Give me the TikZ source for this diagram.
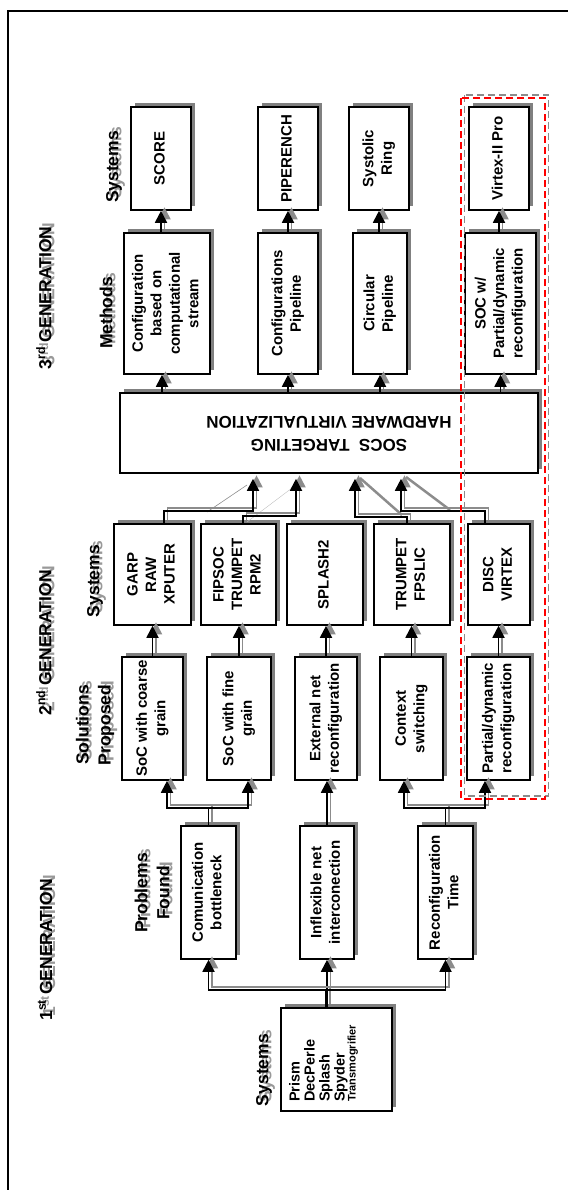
\documentclass[tikz,border=0pt]{standalone}
\usepackage{fontspec}
\setmainfont{Liberation Sans}
\usetikzlibrary{arrows.meta,shadows,calc}
\newcommand\mybox[6]{%
  \node[box, minimum width={#3-#2}, minimum height={#5-#4}] (#1) at ({(#2+#3)/2},{(#4+#5)/2})
    {\rotatebox{90}{\begin{tabular}{@{}c@{}}#6\end{tabular}}};}
\newcommand\lab[4]{%
  \node[lbl, text=black!40] (#1s) at ([shift={(3,-4)}]#2,#3) {#4};
  \node[lbl] (#1) at (#2,#3) {#4};}
\newcommand\conn[1]{\draw[cshadow] #1; \draw[conn] #1;}
\begin{document}
\begin{tikzpicture}[x=1pt,y=-1pt,
  box/.style={draw, line width=1.6pt, fill=white, inner sep=0pt,
    font=\fontsize{15}{18.5}\selectfont\bfseries,
    drop shadow={shadow xshift=4pt, shadow yshift=4pt, fill=black!50, opacity=1}},
  conn/.style={draw=black, line width=1.8pt, -{Triangle[length=12pt,width=12pt]}},
  cshadow/.style={conn, draw=black!45, transform canvas={shift={(3.5pt,3.5pt)}}},
  lbl/.style={rotate=90, align=center, inner sep=0pt, font=\fontsize{17.5}{22}\selectfont\bfseries},
  artifact/.style={draw=black!45}
]
\useasboundingbox (0,0) rectangle (567,1190);
\draw[line width=1.3pt] (8,1200) -- (8,11) -- (580,11);

% labels
\lab{lsysc}{114}{167}{Systems}
\lab{lgenc}{44}{298}{3\textsuperscript{rd} GENERATION}
\lab{lmeth}{106}{313}{Methods}
\lab{lgenb}{44}{643}{2\textsuperscript{nd} GENERATION}
\lab{lsysb}{95}{581}{Systems}
\lab{lsol}{95}{725}{Solutions\\Proposed}
\lab{lprob}{152}{893}{Problems\\Found}
\lab{lgena}{45}{950}{1\textsuperscript{st} GENERATION}
\lab{lsysa}{264}{1070}{Systems}

% 3rd generation
\mybox{score}{131}{191}{107}{210}{SCORE}
\mybox{piper}{258}{318}{107}{210}{PIPERENCH}
\mybox{systolic}{349}{409}{107}{210}{Systolic\\Ring}
\mybox{virtexii}{469}{529}{107}{210}{Virtex-II Pro}
\mybox{mone}{124}{210}{233}{374}{\fontsize{15}{16.5}\selectfont Configuration\\based on\\computational\\stream}
\mybox{mtwo}{258}{318}{233}{374}{Configurations\\Pipeline}
\mybox{mthree}{353}{407}{233}{374}{Circular\\Pipeline}
\mybox{mfour}{465}{536}{233}{374}{SOC w/\\Partial/dynamic\\reconfiguration}
\node[box, minimum width=418pt, minimum height=80pt] (central) at (329,433)
  {\fontsize{17}{23}\selectfont\rotatebox{180}{\begin{tabular}{@{}c@{}}SOCS\ \ TARGETING\\HARDWARE VIRTUALIZATION\end{tabular}}};

% 2nd generation
\mybox{garp}{114}{191}{524}{625}{GARP\\RAW\\XPUTER}
\mybox{fipsoc}{201}{276}{524}{625}{FIPSOC\\TRUMPET\\RPM2}
\mybox{splash}{287}{363}{524}{625}{SPLASH2}
\mybox{trumpet}{374}{450}{524}{625}{TRUMPET\\FPSLIC}
\mybox{disc}{468}{530}{524}{625}{DISC\\VIRTEX}
\mybox{sone}{122}{183}{657}{780}{SoC with coarse\\grain}
\mybox{stwo}{207}{271}{657}{780}{SoC with fine\\grain}
\mybox{sthree}{295}{357}{657}{780}{External net\\reconfiguration}
\mybox{sfour}{380}{443}{657}{780}{Context\\switching}
\mybox{sfive}{467}{530}{657}{780}{Partial/dynamic\\reconfiguration}

% 1st generation
\mybox{pone}{181}{236}{826}{959}{Comunication\\bottleneck}
\mybox{ptwo}{300}{354}{826}{959}{Inflexible net\\interconection}
\mybox{pthree}{418}{473}{826}{959}{Reconfiguration\\Time}
\node[box, minimum width=111pt, minimum height=103pt] (gone) at (336.5,1059.5) {};
\node[rotate=90, anchor=north west, align=left, inner sep=0pt,
  font=\fontsize{14.5}{15}\selectfont\bfseries] (gonetext) at (289,1102)
  {Prism\\DecPerle\\Splash\\Spyder\\[-4pt]{\fontsize{11}{12}\selectfont Transmogrifier}};

% shadow artefacts
\draw[artifact, line width=0.6pt] (207,512) -- (247,485);
\draw[draw=black!25, line width=0.4pt] (247,522) -- (292,488);
\draw[artifact, line width=2.5pt] (360,478) -- (402,515);
\draw[artifact, line width=2.5pt] (406,477) -- (450,510);

% connectors 1st gen
\conn{(ptwo.south |- gone.north) -- (ptwo.south)}
\conn{([xshift=-10.5pt]gone.north) -- ++(0,-17) -| (pone.south)}
\conn{([xshift=-10.5pt]gone.north) -- ++(0,-17) -| (pthree.south)}
\conn{(pone.north) -- ++(0,-17) -| ([xshift=14.5pt]sone.south)}
\conn{(pone.north) -- ++(0,-17) -| ([xshift=9pt]stwo.south)}
\conn{(ptwo.north) -- (ptwo.north |- sthree.south)}
\conn{(pthree.north) -- ++(0,-17) -| ([xshift=-7.5pt]sfour.south)}
\conn{(pthree.north) -- ++(0,-17) -| ([xshift=-13.5pt]sfive.south)}

% connectors 2nd gen
\conn{(sone.north) -- (sone.north |- garp.south)}
\conn{(stwo.north) -- (stwo.north |- fipsoc.south)}
\conn{(sthree.north) -- (sthree.north |- splash.south)}
\conn{(sfour.north) -- (sfour.north |- trumpet.south)}
\conn{(sfive.north) -- (sfive.north |- disc.south)}
\conn{([xshift=11.5pt]garp.north) -- ++(0,-12) -| ([xshift=-76pt,yshift=-5pt]central.south)}
\conn{([xshift=4.5pt]fipsoc.north) -- ++(0,-7) -| ([xshift=-33pt,yshift=-5pt]central.south)}
\conn{([xshift=-5pt]trumpet.north) -- ++(0,-6) -| ([xshift=26pt,yshift=-5pt]central.south)}
\conn{([xshift=-14pt]disc.north) -- ++(0,-12) -| ([xshift=72pt,yshift=-5pt]central.south)}

% connectors 3rd gen
\conn{($(mone.south)+(-5,19)$) -- ([xshift=-5pt]mone.south)}
\conn{(central.north -| mtwo.south) -- (mtwo.south)}
\conn{(central.north -| mthree.south) -- (mthree.south)}
\conn{(central.north -| mfour.south) -- (mfour.south)}
\conn{(mone.north -| score.south) -- (score.south)}
\conn{(mtwo.north -| piper.south) -- (piper.south)}
\conn{(mthree.north -| systolic.south) -- (systolic.south)}
\conn{(mfour.north -| virtexii.south) -- (virtexii.south)}

% highlight frames
\draw[black!45, line width=1.5pt, dash pattern=on 7pt off 4pt] (464.5,95) rectangle (548.5,796);
\draw[red, line width=1.8pt, dash pattern=on 7pt off 4pt] (461,98) rectangle (545,799);
\end{tikzpicture}
\end{document}
